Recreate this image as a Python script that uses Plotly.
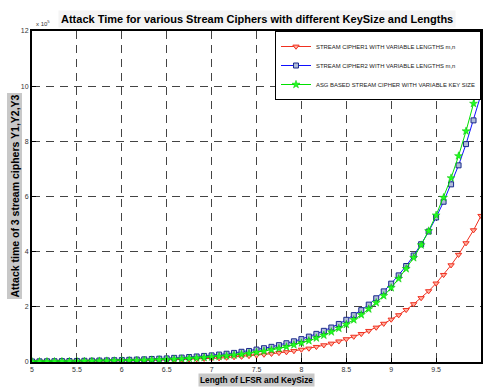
import plotly.graph_objects as go

# x: length of LFSR / key size (5 .. 10 in steps of 1/12)
x_start = 5.0
x_step = 1.0 / 12.0
n_points = 61
lengths = [x_start + i * x_step for i in range(n_points)]

# attack times in units of 1e5
cipher1 = [0.011, 0.012, 0.013, 0.015, 0.017, 0.018, 0.020, 0.023, 0.025, 0.028, 0.030, 0.034,
           0.037, 0.041, 0.046, 0.052, 0.057, 0.064, 0.070, 0.078, 0.087, 0.096, 0.10, 0.12,
           0.13, 0.14, 0.16, 0.18, 0.195, 0.22, 0.24, 0.27, 0.30, 0.33, 0.36, 0.40,
           0.45, 0.49, 0.55, 0.61, 0.67, 0.75, 0.83, 0.92, 1.02, 1.13, 1.25, 1.39,
           1.54, 1.70, 1.89, 2.10, 2.32, 2.57, 2.85, 3.16, 3.51, 3.89, 4.31, 4.78, 5.30]
cipher2 = [0.020, 0.023, 0.026, 0.028, 0.032, 0.035, 0.038, 0.044, 0.047, 0.053, 0.058, 0.064,
           0.070, 0.079, 0.088, 0.096, 0.11, 0.12, 0.13, 0.15, 0.16, 0.18, 0.20, 0.22,
           0.24, 0.27, 0.30, 0.33, 0.37, 0.40, 0.45, 0.50, 0.55, 0.61, 0.68, 0.75,
           0.83, 0.92, 1.02, 1.13, 1.25, 1.38, 1.53, 1.70, 1.88, 2.08, 2.31, 2.56,
           2.84, 3.14, 3.48, 3.86, 4.27, 4.73, 5.24, 5.81, 6.44, 7.13, 7.90, 8.76, 9.70]
asg_cipher = [0.012, 0.013, 0.014, 0.016, 0.018, 0.020, 0.023, 0.026, 0.028, 0.033, 0.036, 0.041,
              0.046, 0.051, 0.056, 0.064, 0.072, 0.079, 0.090, 0.10, 0.11, 0.13, 0.14, 0.16,
              0.18, 0.20, 0.22, 0.25, 0.28, 0.31, 0.35, 0.39, 0.44, 0.49, 0.55, 0.62,
              0.69, 0.77, 0.87, 0.97, 1.09, 1.22, 1.36, 1.53, 1.71, 1.92, 2.15, 2.40,
              2.69, 3.02, 3.38, 3.78, 4.24, 4.75, 5.32, 5.96, 6.67, 7.47, 8.37, 9.37, 10.5]

series_names = ["STREAM CIPHER1 WITH VARIABLE LENGTHS m,n",
                "STREAM CIPHER2 WITH VARIABLE LENGTHS m,n",
                "ASG BASED STREAM CIPHER WITH VARIABLE KEY SIZE"]

x_ticks = [5, 5.5, 6, 6.5, 7, 7.5, 8, 8.5, 9, 9.5, 10]
x_tick_labels = ["5", "5.5", "6", "6.5", "7", "7.5", "8", "8.5", "9", "9.5", "10"]
y_ticks = [0, 2, 4, 6, 8, 10, 12]
y_tick_labels = ["0", "2", "4", "6", "8", "10", "12"]

SANS = "Liberation Sans, Arial, sans-serif"

fig = go.Figure()
fig.add_trace(go.Scatter(
    x=lengths, y=cipher1, name=series_names[0], mode="lines+markers",
    line=dict(color="#f03020", width=1),
    marker=dict(symbol="triangle-down", size=5.5, color="#ffb0a0",
                line=dict(color="#f03020", width=1))))
fig.add_trace(go.Scatter(
    x=lengths, y=cipher2, name=series_names[1], mode="lines+markers",
    line=dict(color="#1010ff", width=1),
    marker=dict(symbol="square", size=5, color="#b0bcd8",
                line=dict(color="#1a2a8c", width=1))))
fig.add_trace(go.Scatter(
    x=lengths, y=asg_cipher, name=series_names[2], mode="lines+markers",
    line=dict(color="#00e000", width=1),
    marker=dict(symbol="star", size=6, color="#20ff20",
                line=dict(color="#00c000", width=0.5))))

axis_common = dict(
    showline=True, linecolor="black", linewidth=2, mirror=True,
    ticks="inside", ticklen=4, tickcolor="black",
    showgrid=True, gridcolor="#444444", gridwidth=1.3, griddash="8px,6px",
    zeroline=False,
    tickfont=dict(family=SANS, size=7, color="#333333"),
)

fig.update_xaxes(range=[5, 10], tickvals=x_ticks, ticktext=x_tick_labels, **axis_common)
fig.update_yaxes(range=[0, 12], tickvals=y_ticks, ticktext=y_tick_labels, **axis_common)

fig.update_layout(
    width=483, height=388,
    margin=dict(l=32, r=0, t=31, b=26),
    paper_bgcolor="white", plot_bgcolor="white",
    showlegend=True,
    legend=dict(x=1, xanchor="right", y=1, yanchor="top",
                bgcolor="white", bordercolor="black", borderwidth=1,
                font=dict(family=SANS, size=5.9, color="#222222"),
                itemwidth=30, tracegroupgap=0),
    annotations=[
        dict(text="<b>Attack Time for various Stream Ciphers with different KeySize and Lengths</b>",
             xref="paper", yref="paper", x=0.5, y=1, xanchor="center", yanchor="bottom",
             yshift=3, showarrow=False, bgcolor="#f4f4f4", borderpad=2,
             font=dict(family=SANS, size=11, color="black")),
        dict(text="<b>Length of LFSR and KeySize</b>",
             xref="paper", yref="paper", x=0.5, y=0, xanchor="center", yanchor="top",
             yshift=-11, showarrow=False, bgcolor="#c8c8c8", borderpad=1,
             font=dict(family=SANS, size=8.3, color="black")),
        dict(text="<b>Attack time of 3 stream ciphers Y1,Y2,Y3</b>",
             xref="paper", yref="paper", x=0, y=0.5, xanchor="right", yanchor="middle",
             xshift=-10, textangle=-90, showarrow=False, bgcolor="#c8c8c8", borderpad=1,
             font=dict(family=SANS, size=10.5, color="black")),
        dict(text="x 10<sup>5</sup>",
             xref="paper", yref="paper", x=0, y=1, xanchor="left", yanchor="bottom",
             xshift=2, yshift=2, showarrow=False,
             font=dict(family=SANS, size=6, color="#333333")),
    ],
)

fig.write_html("out.html", config={"displayModeBar": False},
               post_script="document.body.style.margin='0px';")
